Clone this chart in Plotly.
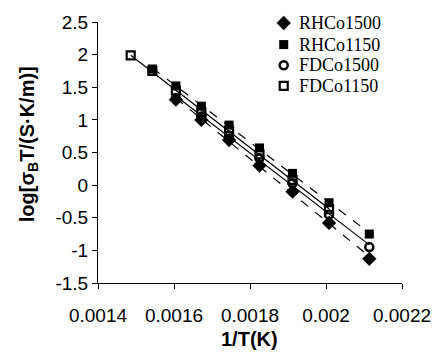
import numpy as np
import plotly.graph_objects as go

# 1/T values (K^-1)
x_all = [0.001486, 0.001543, 0.001605, 0.001672, 0.001745, 0.001825, 0.001912, 0.002008, 0.002114]

rhco1500_x = x_all[2:]
rhco1500_y = [1.31, 1.00, 0.69, 0.30, -0.10, -0.58, -1.13]

rhco1150_x = x_all[1:]
rhco1150_y = [1.78, 1.52, 1.21, 0.92, 0.57, 0.18, -0.27, -0.75]

fdco1500_x = x_all[2:]
fdco1500_y = [1.33, 1.05, 0.76, 0.41, 0.03, -0.45, -0.95]

fdco1150_x = x_all[:8]
fdco1150_y = [1.99, 1.75, 1.45, 1.12, 0.83, 0.47, 0.08, -0.37]

names = ["RHCo1500", "RHCo1150", "FDCo1500", "FDCo1150"]
x_ticks = [0.0014, 0.0016, 0.0018, 0.002, 0.0022]
x_tick_text = ["0.0014", "0.0016", "0.0018", "0.002", "0.0022"]
y_ticks = [-1.5, -1, -0.5, 0, 0.5, 1, 1.5, 2, 2.5]
y_tick_text = ["-1.5", "-1", "-0.5", "0", "0.5", "1", "1.5", "2", "2.5"]

series = [
    (rhco1500_x, rhco1500_y, "diamond", 11, 0, "dash"),
    (rhco1150_x, rhco1150_y, "square", 9, 0, "dash"),
    (fdco1500_x, fdco1500_y, "circle-open", 8, 2.5, "solid"),
    (fdco1150_x, fdco1150_y, "square-open", 8, 2.2, "solid"),
]

# plot area in pixels (for layout of the manual legend)
L, R, T, B = 98, 409, 17, 283
W, H = 443, 357

fig = go.Figure()
# trend lines (linear fits)
for (xs, ys, sym, sz, lw, dash), name in zip(series, names):
    k, b = np.polyfit(xs, ys, 1)
    xe = np.array([min(xs), max(xs)])
    fig.add_trace(go.Scatter(x=xe, y=k * xe + b, mode="lines",
                             line=dict(color="black", width=1.2, dash=dash),
                             showlegend=False, hoverinfo="skip"))
for (xs, ys, sym, sz, lw, dash), name in zip(series, names):
    fig.add_trace(go.Scatter(x=xs, y=ys, mode="markers", name=name, showlegend=False,
                             marker=dict(symbol=sym, size=sz, color="black",
                                         line=dict(color="black", width=lw))))

# manual legend on a pixel-based overlay axis
leg_x, leg_text_x = 288, 302
leg_rows = [18, 40, 61, 82]
for (xs, ys, sym, sz, lw, dash), name, ry in zip(series, names, leg_rows):
    fig.add_trace(go.Scatter(x=[leg_x], y=[ry], xaxis="x2", yaxis="y2", mode="markers",
                             showlegend=False, hoverinfo="skip", cliponaxis=False,
                             marker=dict(symbol=sym, size=sz, color="black",
                                         line=dict(color="black", width=lw))))
    fig.add_annotation(x=leg_text_x, y=ry, xref="x2", yref="y2", text=name,
                       showarrow=False, xanchor="left", yanchor="middle",
                       font=dict(family="Liberation Serif, Times New Roman", size=18, color="black"))

fig.add_annotation(x=(27 - L) / (R - L), y=(B - 142) / (B - T), xref="paper", yref="paper",
                   text="<b>log[σ<sub>B</sub>T/(S·K/m)]</b>", textangle=-90, showarrow=False,
                   xanchor="center", yanchor="middle", font=dict(size=20))
fig.add_annotation(x=(253 - L) / (R - L), y=(B - 340) / (B - T), xref="paper", yref="paper",
                   text="<b>1/T(K)</b>", showarrow=False,
                   xanchor="center", yanchor="middle", font=dict(size=20))

fig.update_layout(
    width=W, height=H,
    margin=dict(l=L, r=W - R, t=T, b=H - B),
    plot_bgcolor="white", paper_bgcolor="white",
    font=dict(family="Arial, Liberation Sans", size=19, color="black"),
    showlegend=False,
    xaxis=dict(range=[0.0014, 0.0022], tickvals=x_ticks, ticktext=x_tick_text,
               showgrid=False, zeroline=False, showline=True, linecolor="black",
               linewidth=1, ticks="outside", ticklen=5, tickcolor="black",
               ticklabelstandoff=10),
    yaxis=dict(range=[-1.5, 2.5], tickvals=y_ticks, ticktext=y_tick_text,
               showgrid=False, zeroline=False, showline=True, linecolor="black",
               linewidth=1, ticks="outside", ticklen=5, tickcolor="black"),
    xaxis2=dict(range=[L, R], overlaying="x", visible=False, fixedrange=True),
    yaxis2=dict(range=[B, T], overlaying="y", visible=False, fixedrange=True),
)

fig.write_html("out.html")
